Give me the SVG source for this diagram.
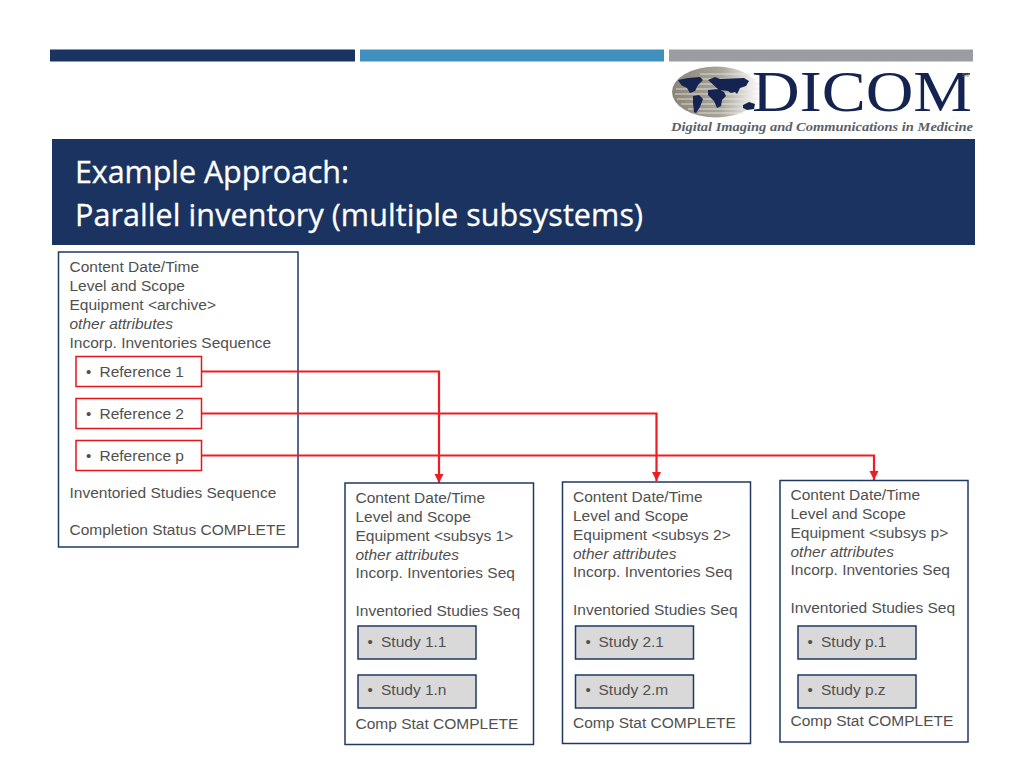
<svg xmlns="http://www.w3.org/2000/svg" width="1024" height="768" viewBox="0 0 1024 768">
<style>
.t{font-family:"Liberation Sans",Arial,sans-serif;font-size:15.5px;fill:#505050}
.i{font-style:italic}
.b{font-size:15px}
.box{fill:#fff;stroke:#1f3864;stroke-width:1.5}
.ref{fill:#fff;stroke:#e8141c;stroke-width:1.5}
.st{fill:#d9d9d9;stroke:#1f3864;stroke-width:1.5}
.title{font-family:"Open Sans","Noto Sans",sans-serif;font-size:30.5px;fill:#fff;stroke:#fff;stroke-width:.3}
.con{fill:none;stroke:#ee1c25;stroke-width:2.2;marker-end:url(#a)}
</style>
<defs>
<marker id="a" markerUnits="userSpaceOnUse" markerWidth="10" markerHeight="10" refX="9" refY="5" orient="auto"><path d="M0 0.500L9 5L0 9.500z" fill="#ee1c25"/></marker>
<linearGradient id="g"><stop offset="0" stop-color="#8a8577"/><stop offset=".55" stop-color="#a8a498"/><stop offset="1" stop-color="#fff"/></linearGradient>
</defs>
<rect width="1024" height="768" fill="#fff"/>
<g id="header">
<rect x="50" y="49.500" width="305" height="12" fill="#1b3360"/>
<rect x="360" y="49.500" width="304" height="12" fill="#3f8fbf"/>
<rect x="669" y="49.500" width="304" height="12" fill="#9a9ea2"/>
<rect x="52" y="139" width="923" height="106" fill="#1b3360"/>
<text class="title" x="75" y="182.500" textLength="274">Example Approach:</text>
<text class="title" x="75" y="225.500" textLength="568">Parallel inventory (multiple subsystems)</text>
</g>
<g id="logo">
<ellipse cx="716" cy="92" rx="44" ry="25.500" fill="url(#g)"/>
<path d="M700 74h56M688 79h70M680 84h80M676 89h84M675 94h85M677 99h82M681 104h76M688 109h66M698 113h46" stroke="#eeece8" stroke-width="1.200" opacity=".8"/>
<path d="M678 80l10-2 12-1 3 3-5 5-3 6-5 2-3-5-6-3zM693 96l6-1 4 4-3 8-4 6-2-1-1-9zM708 80l7-3 5 2 24-1 5 3-3 5-6 2-3 6-2-2-4 1-3-2-9-1zM708 90l10-1 6 3 2 4-4 4-1 6-4 2-3-7-6-6zM743 105l6-3 6 2-1 5-7 1-4-2z" fill="#14234f"/>
<text x="752" y="111" font-family="Liberation Serif,serif" font-size="57" fill="#14234f" textLength="220" lengthAdjust="spacingAndGlyphs">DICOM</text>
<text x="962" y="77" font-family="Liberation Sans,sans-serif" font-size="5" fill="#777">SM</text>
<text x="671" y="130.500" font-family="Liberation Serif,serif" font-size="12.500" font-weight="bold" font-style="italic" fill="#5a5f68" textLength="302" lengthAdjust="spacingAndGlyphs">Digital Imaging and Communications in Medicine</text>
</g>
<g id="archive">
<rect class="box" x="58.500" y="252" width="239.500" height="295"/>
<text class="t" x="69.500" y="272">Content Date/Time</text>
<text class="t" x="69.500" y="291">Level and Scope</text>
<text class="t" x="69.500" y="310">Equipment &lt;archive&gt;</text>
<text class="t i" x="69.500" y="329">other attributes</text>
<text class="t" x="69.500" y="347.500">Incorp. Inventories Sequence</text>
<text class="t" x="69.500" y="497.500">Inventoried Studies Sequence</text>
<text class="t" x="69.500" y="535">Completion Status COMPLETE</text>
</g>
<g id="ref1"><rect class="ref" x="76" y="356.500" width="125.500" height="30"/><text class="t b" x="86" y="376.500">•</text><text class="t" x="99.500" y="376.500">Reference 1</text></g>
<g id="ref2"><rect class="ref" x="76" y="398.500" width="125.500" height="30"/><text class="t b" x="86" y="418.500">•</text><text class="t" x="99.500" y="418.500">Reference 2</text></g>
<g id="refp"><rect class="ref" x="76" y="440.500" width="125.500" height="30"/><text class="t b" x="86" y="460.500">•</text><text class="t" x="99.500" y="460.500">Reference p</text></g>
<g id="connectors">
<path class="con" d="M202 371.500H439V483"/>
<path class="con" d="M202 413.500H656.500V481"/>
<path class="con" d="M202 455.500H874V480"/>
</g>
<g id="sub1">
<rect class="box" x="345" y="483" width="188.500" height="261.500"/>
<text class="t" x="355.500" y="503">Content Date/Time</text>
<text class="t" x="355.500" y="522">Level and Scope</text>
<text class="t" x="355.500" y="541">Equipment &lt;subsys 1&gt;</text>
<text class="t i" x="355.500" y="559.500">other attributes</text>
<text class="t" x="355.500" y="578">Incorp. Inventories Seq</text>
<text class="t" x="355.500" y="616">Inventoried Studies Seq</text>
<rect class="st" x="358" y="626" width="118" height="33"/><text class="t b" x="367.500" y="646.500">•</text><text class="t" x="381" y="646.500">Study 1.1</text>
<rect class="st" x="358" y="675" width="118" height="33"/><text class="t b" x="367.500" y="695">•</text><text class="t" x="381" y="695">Study 1.n</text>
<text class="t" x="355.500" y="728.500">Comp Stat COMPLETE</text>
</g>
<g id="sub2">
<rect class="box" x="562.500" y="482" width="188" height="261.500"/>
<text class="t" x="573" y="502">Content Date/Time</text>
<text class="t" x="573" y="521">Level and Scope</text>
<text class="t" x="573" y="540">Equipment &lt;subsys 2&gt;</text>
<text class="t i" x="573" y="558.500">other attributes</text>
<text class="t" x="573" y="577">Incorp. Inventories Seq</text>
<text class="t" x="573" y="615">Inventoried Studies Seq</text>
<rect class="st" x="575.500" y="626" width="118" height="33"/><text class="t b" x="585.500" y="646.500">•</text><text class="t" x="598.500" y="646.500">Study 2.1</text>
<rect class="st" x="575.500" y="675" width="118" height="33"/><text class="t b" x="585.500" y="695">•</text><text class="t" x="598.500" y="695">Study 2.m</text>
<text class="t" x="573" y="727.500">Comp Stat COMPLETE</text>
</g>
<g id="subp">
<rect class="box" x="780" y="480.500" width="188" height="261.500"/>
<text class="t" x="790.500" y="500">Content Date/Time</text>
<text class="t" x="790.500" y="519">Level and Scope</text>
<text class="t" x="790.500" y="538">Equipment &lt;subsys p&gt;</text>
<text class="t i" x="790.500" y="556.500">other attributes</text>
<text class="t" x="790.500" y="575">Incorp. Inventories Seq</text>
<text class="t" x="790.500" y="613">Inventoried Studies Seq</text>
<rect class="st" x="798" y="626" width="118" height="33"/><text class="t b" x="807.500" y="646.500">•</text><text class="t" x="821" y="646.500">Study p.1</text>
<rect class="st" x="798" y="675" width="118" height="33"/><text class="t b" x="807.500" y="695">•</text><text class="t" x="821" y="695">Study p.z</text>
<text class="t" x="790.500" y="726">Comp Stat COMPLETE</text>
</g>
</svg>
